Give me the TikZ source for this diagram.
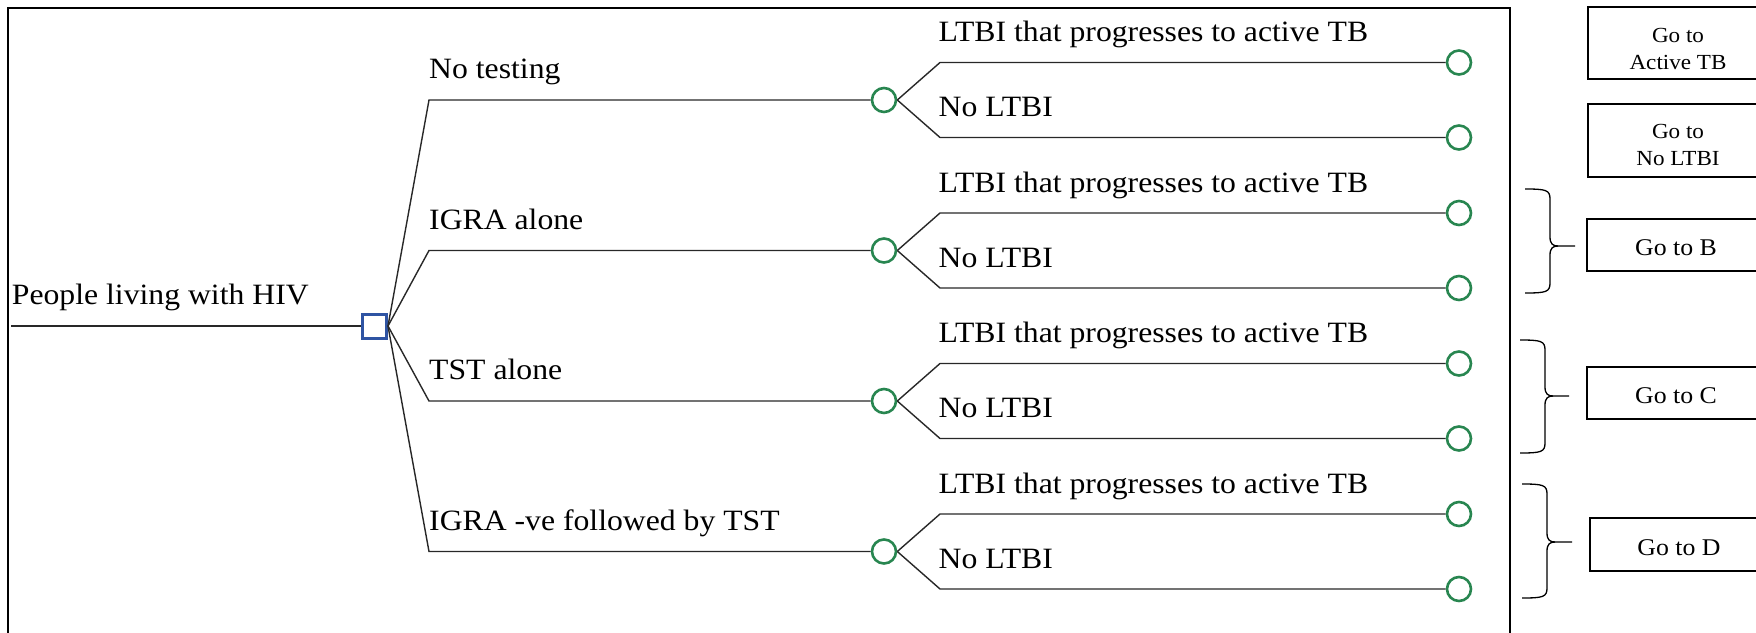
\documentclass[tikz,border=0pt]{standalone}
\usepackage{fontspec}
\setmainfont{Liberation Serif}[FakeStretch=1.075]
\definecolor{decblue}{RGB}{47,84,163}
\definecolor{chgreen}{RGB}{40,134,80}
\definecolor{treeline}{RGB}{40,40,40}
\begin{document}
\begin{tikzpicture}[x=1pt,y=-1pt,
  tree/.style={draw=treeline, line width=1.4pt},
  lbl/.style={anchor=base west, inner sep=0pt, font=\fontsize{29.5}{34}\selectfont},
  decnode/.style={draw=decblue, line width=3pt, minimum size=24pt, inner sep=0pt},
  chnode/.style={circle, draw=chgreen, line width=2.6pt, minimum size=24pt, inner sep=0pt},
  frameline/.style={draw=black, line width=2pt},
  gobox/.style={draw=black, line width=2pt},
  smalltxt/.style={inner sep=0pt, align=center, font=\fontsize{21.5}{27}\selectfont},
  boxtxt/.style={anchor=base, inner sep=0pt, font=\fontsize{24}{28}\selectfont},
  bracepath/.style={draw=black, line width=1.3pt}]
\useasboundingbox (0,0) rectangle (1756,632);
\fill[white] (0,0) rectangle (1756,632);
\clip (0,0) rectangle (1756,632);

% outer frame
\draw[frameline] (8,660) -- (8,7.5) -- (1510,7.5) -- (1510,660);

% root
\node[lbl] (rootlbl) at (11.7,304) {People living with HIV};
\coordinate (start) at (11,326);
\node[decnode] (dec) at (374.5,326) {};
\draw[tree] (start) -- (dec);

\foreach \i/\y/\t in {1/100/No testing, 2/250.5/IGRA alone, 3/401/TST alone, 4/551.5/IGRA -ve followed by TST}{
  \coordinate (b\i) at (429,\y);
  \node[chnode] (c\i) at (884,\y) {};
  \draw[tree] (dec.east) -- (b\i) -- (c\i);
  \node[lbl] (l\i) at (429,\y-21.5) {\t};
  \coordinate (u\i) at (940,\y-37.5);
  \coordinate (v\i) at (940,\y+37.5);
  \node[chnode] (eu\i) at (1459,\y-37.5) {};
  \node[chnode] (ev\i) at (1459,\y+37.5) {};
  \draw[tree] (c\i.east) -- (u\i) -- (eu\i);
  \draw[tree] (c\i.east) -- (v\i) -- (ev\i);
  \node[lbl] (lu\i) at (938.4,\y-58.5) {LTBI that progresses to active TB};
  \node[lbl] (lv\i) at (938.4,\y+16.5) {No LTBI};
}

% right-hand boxes
\draw[gobox] (1588.3,7.3) rectangle (1780,79);
\node[smalltxt] (goA) at (1678,48.5) {Go to\\Active TB};
\draw[gobox] (1588.3,104) rectangle (1780,176.7);
\node[smalltxt] (goN) at (1678,145) {Go to\\No LTBI};
\draw[gobox] (1587,219) rectangle (1780,270.7);
\node[boxtxt] (goB) at (1676,255) {Go to B};
\draw[gobox] (1587,367) rectangle (1780,419);
\node[boxtxt] (goC) at (1676,403) {Go to C};
\draw[gobox] (1590,518.3) rectangle (1780,570.7);
\node[boxtxt] (goD) at (1679,555) {Go to D};

% braces
\foreach \xa/\xv/\xt/\ta/\mi/\bo in {1525/1550/1575/189/246/293, 1520/1545/1569/340/396/453, 1522/1547/1572/484/542/598}{
  \draw[bracepath] (\xa,\ta) .. controls (\xv-4,\ta) and (\xv,\ta+1) .. (\xv,\ta+10)
     -- (\xv,\mi-9) .. controls (\xv,\mi-2) and (\xv+3,\mi) .. (\xv+8,\mi) -- (\xt,\mi);
  \draw[bracepath] (\xv+8,\mi) .. controls (\xv+3,\mi) and (\xv,\mi+2) .. (\xv,\mi+9)
     -- (\xv,\bo-10) .. controls (\xv,\bo-1) and (\xv-4,\bo) .. (\xa,\bo);
}
\end{tikzpicture}
\end{document}
